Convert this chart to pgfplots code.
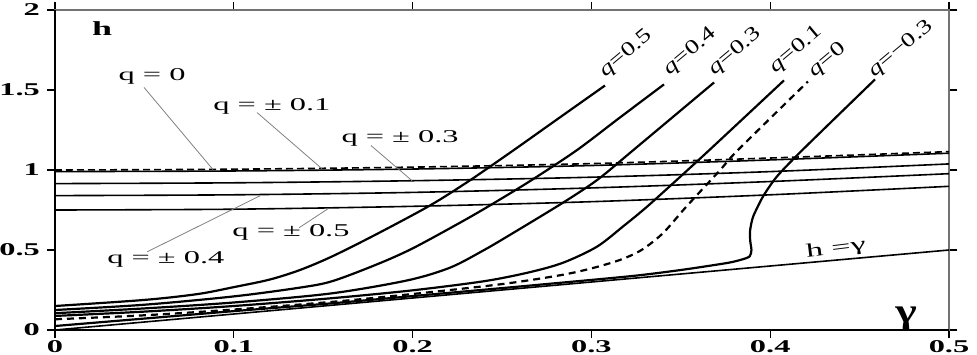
\documentclass[border=0pt]{standalone}
\usepackage{pgfplots}
\pgfplotsset{compat=1.18}
\usepackage{fontspec}
\setmainfont{Liberation Serif}
\newfontfamily\wide[FakeStretch=1.8]{Liberation Serif}
\newfontfamily\midwide[FakeStretch=1.35]{Liberation Serif}

\begin{document}
\begin{tikzpicture}
\begin{axis}[
scale only axis,
width=447pt,
height=160pt,
xmin=0, xmax=0.5,
ymin=0, ymax=2,
xtick={0,0.1,0.2,0.3,0.4,0.5},
xticklabels={0,0.1,0.2,0.3,0.4,0.5},
ytick={0,0.5,1,1.5,2},
yticklabels={0,0.5,1,1.5,2},
tick align=outside,
xtick pos=both, ytick pos=both,
xticklabel pos=lower, yticklabel pos=left,
major tick length=4pt,
tick style={black, line width=0.6pt},
axis line style={black!55, line width=0.8pt},
ticklabel style={font=\wide\bfseries\fontsize{9}{10}\selectfont},
xticklabel style={inner sep=1pt},
clip=false,
]
\coordinate (sw) at (rel axis cs:0,0);
\coordinate (ne) at (rel axis cs:1,1);
\draw[black, line width=0.8pt] (rel axis cs:0,1) -- (rel axis cs:0,0) -- (rel axis cs:1,0);

% nearly flat family, q = 0 (dashed) and q = +-0.1 ... +-0.5
\addplot[black, line width=0.8pt, dash pattern=on 3.5pt off 2pt, smooth] coordinates {
(0,1.0) (0.1,1.005) (0.2,1.018) (0.3,1.04) (0.4,1.075) (0.5,1.115)};
\addplot[black, line width=0.8pt, smooth] coordinates {
(0,0.99) (0.1,0.994) (0.2,1.006) (0.3,1.028) (0.4,1.063) (0.5,1.105)};
\addplot[black, line width=0.8pt, smooth] coordinates {
(0,0.915) (0.1,0.92) (0.2,0.933) (0.3,0.955) (0.4,0.99) (0.5,1.038)};
\addplot[black, line width=0.8pt, smooth] coordinates {
(0,0.84) (0.1,0.845) (0.2,0.86) (0.3,0.888) (0.4,0.928) (0.5,0.977)};
\addplot[black, line width=0.8pt, smooth] coordinates {
(0,0.75) (0.1,0.755) (0.2,0.773) (0.3,0.802) (0.4,0.845) (0.5,0.898)};

% rising branches
\addplot[black, line width=1.1pt, smooth, tension=0.5] coordinates {% q=0.5
(0,0.15) (0.05,0.188) (0.08,0.225) (0.1,0.268) (0.12,0.315) (0.137,0.375)
(0.155,0.46) (0.18,0.6) (0.21,0.78) (0.232,0.935) (0.256,1.12) (0.28,1.31) (0.3076,1.528)};
\addplot[black, line width=1.1pt, smooth, tension=0.5] coordinates {% q=0.4
(0,0.125) (0.05,0.158) (0.1,0.21) (0.137,0.265) (0.155,0.305) (0.18,0.41) (0.2,0.51)
(0.228,0.68) (0.245,0.79) (0.267,0.94) (0.292,1.125) (0.315,1.32) (0.3406,1.535)};
\addplot[black, line width=1.1pt, smooth, tension=0.5] coordinates {% q=0.3
(0,0.105) (0.05,0.135) (0.1,0.172) (0.154,0.228) (0.197,0.31) (0.221,0.39) (0.24,0.5)
(0.256,0.605) (0.284,0.795) (0.3035,0.94) (0.3235,1.125) (0.3686,1.547)};
\addplot[black, line width=1.1pt, smooth, tension=0.5] coordinates {% q=0.1
(0,0.088) (0.05,0.115) (0.1,0.15) (0.154,0.198) (0.2,0.248) (0.24,0.305) (0.265,0.36)
(0.284,0.42) (0.303,0.52) (0.318,0.65) (0.33,0.76) (0.344,0.9) (0.366,1.125) (0.4077,1.56)};
\addplot[black, line width=1.1pt, smooth, tension=0.5, dash pattern=on 3.5pt off 2.5pt] coordinates {% q=0
(0,0.067) (0.05,0.092) (0.1,0.128) (0.154,0.175) (0.2,0.225) (0.25,0.287) (0.2824,0.342)
(0.3,0.385) (0.316,0.438) (0.328,0.5) (0.34,0.605) (0.353,0.77) (0.372,1.0) (0.382,1.125) (0.4211,1.553)};
\addplot[black, line width=1.1pt, smooth, tension=0.4] coordinates {% q=-0.3
(0,0.025) (0.1,0.118) (0.154,0.166) (0.2,0.212) (0.26,0.272) (0.3216,0.336) (0.35,0.375)
(0.376,0.419) (0.384,0.44) (0.3885,0.46) (0.3895,0.5) (0.3888,0.56) (0.3888,0.626)
(0.3905,0.71) (0.396,0.835) (0.4038,0.96) (0.418,1.125) (0.4586,1.566)};
% h = gamma
\addplot[black, line width=0.8pt] coordinates {(0,0) (0.5,0.5)};

% leader lines
\begin{scope}[gray, line width=0.4pt]
\draw (axis cs:0.0498,1.516) -- (axis cs:0.0884,1.002);
\draw (axis cs:0.113,1.359) -- (axis cs:0.1493,1.008);
\draw (axis cs:0.1767,1.153) -- (axis cs:0.1997,0.933);
\draw (axis cs:0.1365,0.639) -- (axis cs:0.1527,0.758);
\draw (axis cs:0.0515,0.4886) -- (axis cs:0.1147,0.839);
\end{scope}

\begin{scope}[every node/.style={font=\wide\fontsize{9}{10}\selectfont, inner sep=0pt}]
\node at (axis cs:0.0543,1.585) {q = 0};
\node at (axis cs:0.1213,1.397) {q = ± 0.1};
\node at (axis cs:0.193,1.196) {q = ± 0.3};
\node at (axis cs:0.132,0.608) {q = ± 0.5};
\node at (axis cs:0.062,0.438) {q = ± 0.4};
\end{scope}

\begin{scope}[every node/.style={font=\midwide\fontsize{10}{12}\selectfont, inner sep=0pt, anchor=south west, rotate=40}]
\node at (axis cs:0.3093,1.555) {\itshape q\upshape=0.5};
\node at (axis cs:0.345,1.567) {\itshape q\upshape=0.4};
\node at (axis cs:0.3702,1.567) {\itshape q\upshape=0.3};
\node at (axis cs:0.4044,1.58) {\itshape q\upshape=0.1};
\node at (axis cs:0.4262,1.555) {\itshape q\upshape=0};
\node at (axis cs:0.4597,1.555) {\itshape q\upshape=−0.3};
\end{scope}

\node[font=\wide\fontsize{9.5}{11}\selectfont, rotate=7, inner sep=0pt] at (axis cs:0.4368,0.505) {h =γ};
\node[font=\wide\bfseries\fontsize{10}{12}\selectfont, inner sep=0pt] at (axis cs:0.0263,1.885) {h};
\node[font=\midwide\bfseries\fontsize{17}{18}\selectfont, inner sep=0pt] at (axis cs:0.476,0.075) {γ};
\end{axis}
\pgfresetboundingbox
\path[use as bounding box] ([shift={(-27.5pt,-12pt)}]sw) rectangle ([shift={(14pt,5pt)}]ne);
\end{tikzpicture}
\end{document}
